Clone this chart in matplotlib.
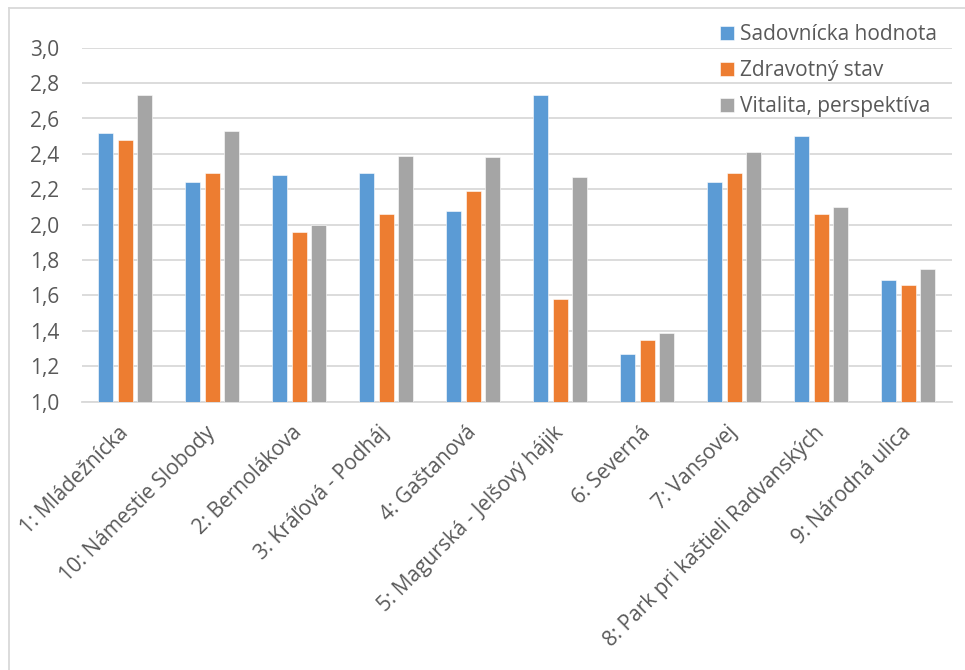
import matplotlib
matplotlib.use("Agg")
import matplotlib.pyplot as plt
from matplotlib.lines import Line2D
import numpy as np

plt.rcParams['font.family'] = ['Open Sans', 'DejaVu Sans']

categories = [
    "1: Mládežnícka",
    "10: Námestie Slobody",
    "2: Bernolákova",
    "3: Kráľová - Podháj",
    "4: Gaštanová",
    "5: Magurská - Jelšový hájik",
    "6: Severná",
    "7: Vansovej",
    "8: Park pri kaštieli Radvanských",
    "9: Národná ulica",
]
sadovnicka = [2.52, 2.24, 2.28, 2.29, 2.08, 2.73, 1.27, 2.24, 2.50, 1.69]
zdravotny = [2.48, 2.29, 1.96, 2.06, 2.19, 1.58, 1.35, 2.29, 2.06, 1.66]
vitalita = [2.73, 2.53, 2.00, 2.39, 2.38, 2.27, 1.39, 2.41, 2.10, 1.75]
series_names = ["Sadovnícka hodnota", "Zdravotný stav", "Vitalita, perspektíva"]
y_ticks = [1.0, 1.2, 1.4, 1.6, 1.8, 2.0, 2.2, 2.4, 2.6, 2.8, 3.0]

colors = ["#5B9BD5", "#ED7D31", "#A5A5A5"]
text_color = "#595959"
grid_color = "#D9D9D9"
fs = 15

W, H = 965, 670
fig = plt.figure(figsize=(W / 100, H / 100), dpi=100)
ax = fig.add_axes([81.7 / W, 1 - 401.7 / H, (951.7 - 81.7) / W, (401.7 - 47.7) / H])

x = np.arange(len(categories))
bw = 0.172
step = 0.222
for i, (vals, name) in enumerate(zip([sadovnicka, zdravotny, vitalita], series_names)):
    ax.bar(x + (i - 1) * step, np.array(vals) - 1.0, bottom=1.0, width=bw,
           color=colors[i], edgecolor="white", linewidth=0.4, label=name, zorder=3)

ax.set_xlim(-0.5, len(categories) - 0.5)
ax.set_ylim(1.0, 3.0)
ax.set_yticks(y_ticks)
ax.set_yticklabels([f"{v:.1f}".replace(".", ",") for v in y_ticks])
ax.yaxis.grid(True, color=grid_color, linewidth=1.3, zorder=0)
ax.set_axisbelow(True)
for s in ["top", "right", "left"]:
    ax.spines[s].set_visible(False)
ax.spines["bottom"].set_color(grid_color)
ax.spines["bottom"].set_linewidth(1.3)
ax.tick_params(axis="y", length=0, pad=16, labelsize=fs, labelcolor=text_color)
ax.tick_params(axis="x", length=0, pad=20, labelsize=fs, labelcolor=text_color)
ax.set_xticks(x)
ax.set_xticklabels(categories, rotation=45, ha="right", rotation_mode="anchor", va="center")

fig.legend(loc="upper left", bbox_to_anchor=(720 / W, 1 - 24 / H), frameon=False,
           fontsize=fs, labelcolor=text_color, handlelength=0.68, handleheight=0.68,
           handletextpad=0.3, labelspacing=0.72, borderpad=0, borderaxespad=0)

# chart frame
fig.add_artist(Line2D([9 / W, 9 / W], [0, 1 - 8 / H], transform=fig.transFigure,
                      color=grid_color, linewidth=1.3))
fig.add_artist(Line2D([9 / W, 1], [1 - 8 / H, 1 - 8 / H], transform=fig.transFigure,
                      color=grid_color, linewidth=1.3))

fig.savefig("out.png", dpi=100)
